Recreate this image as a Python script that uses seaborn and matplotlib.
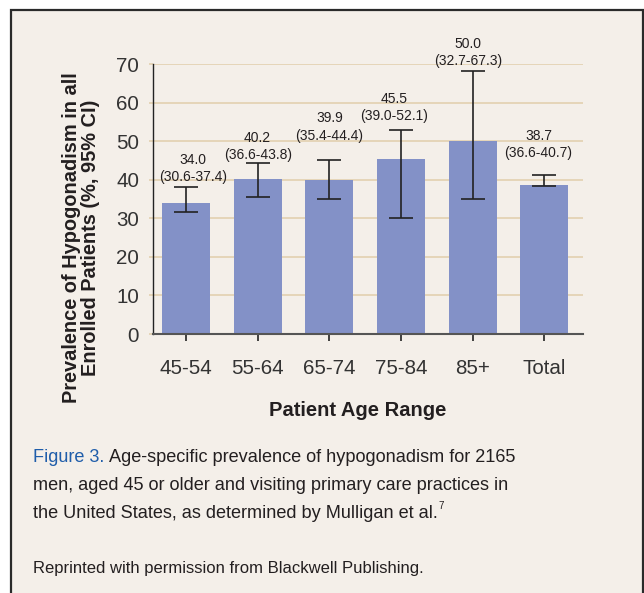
import numpy as np
import pandas as pd
import seaborn as sns
import matplotlib.pyplot as plt
from matplotlib.patches import Rectangle

# values
age_groups = ['45-54', '55-64', '65-74', '75-84', '85+', 'Total']
prevalence = [34.0, 40.2, 39.9, 45.5, 50.0, 38.7]
ci_labels = ['(30.6-37.4)', '(36.6-43.8)', '(35.4-44.4)', '(39.0-52.1)', '(32.7-67.3)', '(36.6-40.7)']
# error bar ends as they are drawn in the picture
err_low = [31.7, 35.4, 35.1, 30.0, 35.1, 38.4]
err_high = [38.0, 44.3, 45.1, 53.0, 68.2, 41.2]

# where the value labels sit (data units) and small sideways nudges
label_y = [38.8, 44.6, 49.6, 54.6, 69.0, 45.0]
label_dx = [0.1, 0.0, 0.0, -0.1, -0.06, -0.08]

bg = '#F4EFE9'
bar_color = '#8391C7'
grid_color = '#E2D0B0'
text_color = '#231F20'
blue = '#1F5DAA'

sns.set_style('white')
plt.rcParams['font.family'] = ['Liberation Sans', 'DejaVu Sans']

df = pd.DataFrame({'age': age_groups, 'prev': prevalence})

fig = plt.figure(figsize=(6.44, 5.93), dpi=100)
fig.patch.set_facecolor('white')

# framed panel
frame = Rectangle((11 / 644, -0.05), (643 - 11) / 644, 1 - 9.5 / 593 + 0.05,
                  transform=fig.transFigure, facecolor=bg, edgecolor='#2A2A2A',
                  linewidth=1.6, zorder=-5)
fig.patches.append(frame)

ax = fig.add_axes([153 / 644, 1 - 334 / 593, 430 / 644, 270 / 593])
ax.set_facecolor(bg)

sns.barplot(data=df, x='age', y='prev', color=bar_color, saturation=1,
            width=0.67, linewidth=0, ax=ax, zorder=2)

xs = np.arange(len(age_groups))
lo = np.array(prevalence) - np.array(err_low)
hi = np.array(err_high) - np.array(prevalence)
ax.errorbar(xs, prevalence, yerr=[lo, hi], fmt='none', ecolor='#222222',
            elinewidth=1.2, capsize=8.5, capthick=1.2, zorder=3)

for i in range(len(age_groups)):
    ax.text(xs[i] + label_dx[i], label_y[i],
            f'{prevalence[i]:.1f}\n{ci_labels[i]}',
            ha='center', va='bottom', fontsize=10, color=text_color,
            linespacing=1.3, zorder=4)

ax.set_ylim(0, 70)
ax.set_xlim(-0.46, 5.54)
ax.set_yticks(range(0, 71, 10))
ax.yaxis.grid(True, color=grid_color, linewidth=1.2)
ax.set_axisbelow(True)
for s in ['top', 'right']:
    ax.spines[s].set_visible(False)
ax.spines['left'].set_color('#222222')
ax.spines['left'].set_linewidth(1.0)
ax.spines['bottom'].set_color('#555555')
ax.spines['bottom'].set_linewidth(1.5)
ax.tick_params(axis='y', direction='out', length=3, width=1.2, color=grid_color,
               pad=7, labelsize=14.8, labelcolor='#333333', left=True)
ax.tick_params(axis='x', direction='out', length=5, width=1.2, color='#222222',
               pad=13, labelsize=14.8, labelcolor='#333333', bottom=True)
ax.set_xlabel('')
ax.set_ylabel('')

fig.text(358 / 644, 1 - 411 / 593, 'Patient Age Range', ha='center', va='center',
         fontsize=14.5, fontweight='bold', color=text_color)
fig.text(81 / 644, 1 - 238 / 593,
         'Prevalence of Hypogonadism in all\nEnrolled Patients (%, 95% CI)',
         ha='center', va='center', rotation=90, fontsize=14.4, fontweight='bold',
         color=text_color, linespacing=1.0, multialignment='center')

# caption
fig.canvas.draw()
renderer = fig.canvas.get_renderer()
cap_size = 13.05
x0 = 33 / 644
t1 = fig.text(x0, 1 - 457 / 593, 'Figure 3.', color=blue, fontsize=cap_size,
              va='center', ha='left')
bb = t1.get_window_extent(renderer).transformed(fig.transFigure.inverted())
fig.text(bb.x1 + 5 / 644, 1 - 457 / 593,
         'Age-specific prevalence of hypogonadism for 2165',
         color=text_color, fontsize=cap_size, va='center', ha='left')
fig.text(x0, 1 - 485 / 593,
         'men, aged 45 or older and visiting primary care practices in',
         color=text_color, fontsize=cap_size, va='center', ha='left')
t3 = fig.text(x0, 1 - 513 / 593,
              'the United States, as determined by Mulligan et al.',
              color=text_color, fontsize=cap_size, va='center', ha='left')
bb3 = t3.get_window_extent(renderer).transformed(fig.transFigure.inverted())
fig.text(bb3.x1 + 1 / 644, 1 - 506 / 593, '7', color=text_color, fontsize=7,
         va='center', ha='left')
fig.text(x0, 1 - 569 / 593, 'Reprinted with permission from Blackwell Publishing.',
         color=text_color, fontsize=12, va='center', ha='left')

fig.savefig('out.png', dpi=100, facecolor=fig.get_facecolor())
